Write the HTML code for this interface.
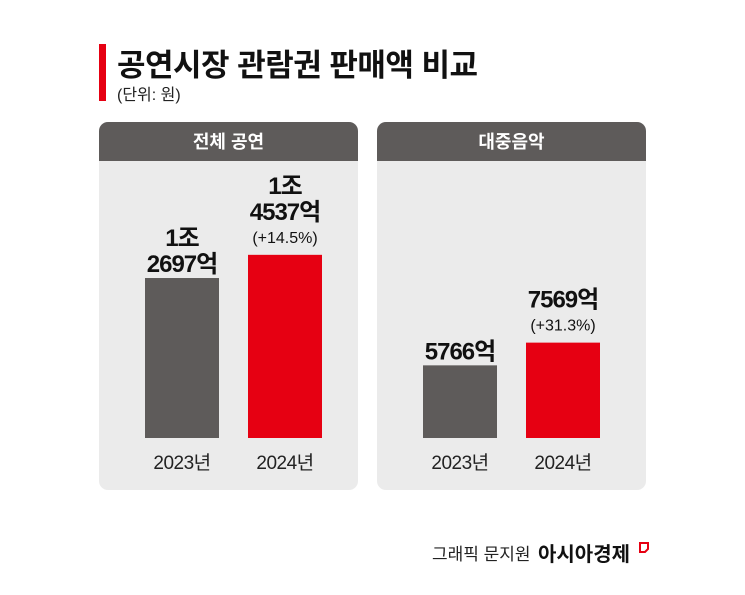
<!DOCTYPE html>
<html><head><meta charset="utf-8"><style>
html,body{margin:0;padding:0;background:#fff;}
svg{display:block;font-family:"Liberation Sans","Noto Sans CJK KR",sans-serif;}
</style></head><body>
<svg width="745" height="595" viewBox="0 0 745 595">
<rect x="99" y="44" width="7" height="57" fill="#e60012"/>
<text x="117" y="76" font-size="31" font-weight="bold" fill="#111" letter-spacing="-0.5">공연시장 관람권 판매액 비교</text>
<text x="117" y="100" font-size="16" fill="#222">(단위: 원)</text>
<g id="panels"></g>
<text x="432" y="560" font-size="17" fill="#222">그래픽 문지원</text>
<text x="538" y="561" font-size="20" font-weight="bold" fill="#111">아시아경제</text>
<path d="M640 543 h8 v6 l-3 3 h-5 z" fill="none" stroke="#e60012" stroke-width="2"/>
</svg>
<script>
const panelTitles=["전체 공연","대중음악"];
const categories=["2023년","2024년"];
const valuesTotal=[12697,14537];
const valuesPop=[5766,7569];
const labelsTotal=[["1조","2697억"],["1조","4537억","(+14.5%)"]];
const labelsPop=[["5766억"],["7569억","(+31.3%)"]];
const ns="http://www.w3.org/2000/svg";
const g=document.getElementById("panels");
function mk(t,a,p){const e=document.createElementNS(ns,t);for(const k in a)e.setAttribute(k,a[k]);p.appendChild(e);return e;}
const scale=0.0126;
const panels=[{x:99,w:259,vals:valuesTotal,labels:labelsTotal},{x:377,w:269,vals:valuesPop,labels:labelsPop}];
panels.forEach((p,pi)=>{
 const pg=mk("g",{},g);
 
 
 const bg=mk("rect",{x:p.x,y:122,width:p.w,height:368,rx:9,fill:"#ebebeb"},pg);
 
 
 const hd=mk("path",{d:`M${p.x} 161 V131 a9 9 0 0 1 9 -9 H${p.x+p.w-9} a9 9 0 0 1 9 9 V161 Z`,fill:"#5e5b5a"},pg);
 
 
 const ht=mk("text",{x:p.x+p.w/2,y:148,"font-size":18,"font-weight":"bold",fill:"#fff","text-anchor":"middle"},pg);
 ht.textContent=panelTitles[pi];
 
 
 const base=438;
 p.vals.forEach((v,i)=>{
  const bx=p.x+46+i*103, h=v*scale, top=base-h;
  const r=mk("rect",{x:bx,y:top,width:74,height:h,fill:i?"#e60012":"#5e5b5a"},pg);
  
  
  const cx=bx+37;
  const ct=mk("text",{x:cx,y:469,"font-size":19,fill:"#222","text-anchor":"middle","letter-spacing":-0.5},pg);
  ct.textContent=categories[i];
  
  
  const L=p.labels[i];
  let y=top-6;
  for(let j=L.length-1;j>=0;j--){
   const small=L[j].startsWith("(");
   if(small) y-=6;
   const t=mk("text",{x:cx,y:y,"font-size":small?16:24,"font-weight":small?"normal":"bold",fill:"#111","text-anchor":"middle","letter-spacing":small?0:-1},pg);
   t.textContent=L[j];
   
   
   y-=small?23:26;
  }
 });
});
</script>
</body></html>
